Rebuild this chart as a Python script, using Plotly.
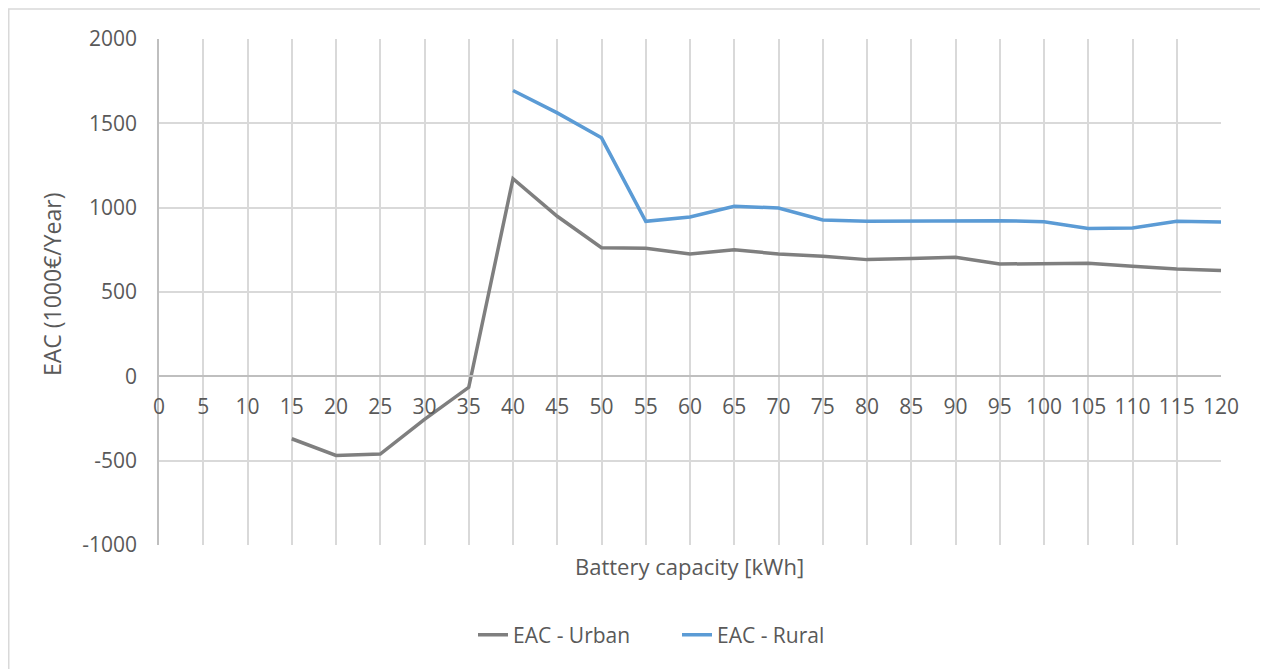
import plotly.graph_objects as go

capacity = [0, 5, 10, 15, 20, 25, 30, 35, 40, 45, 50, 55, 60, 65, 70, 75, 80, 85, 90, 95, 100, 105, 110, 115, 120]
eac_urban = [None, None, None, -370, -469, -461, -255, -65, 1172, 949, 763, 760, 725, 751, 725, 712, 692, 698, 706, 666, 666, 670, 652, 636, 627]
eac_rural = [None, None, None, None, None, None, None, None, 1695, 1562, 1414, 919, 945, 1008, 998, 927, 919, 919, 919, 923, 917, 876, 880, 919, 915]
y_ticks = [-1000, -500, 0, 500, 1000, 1500, 2000]
y_ticktext = ["-1000", "-500", "0", "500", "1000", "1500", "2000"]

FONT = "Open Sans"
TXT = "#595959"
GRID = "#d9d9d9"
FS = 21

# page body has an 8px margin, so the figure is drawn 8px smaller/shifted
OFF = 8
W, H = 1268 - OFF, 669 - OFF
L, R, T, B = 159 - OFF, 1221 - OFF, 39 - OFF, 545 - OFF
PW, PH = R - L, B - T


def px(xpix):
    return (xpix - OFF - L) / PW


def py(ypix):
    return (B - (ypix - OFF)) / PH


fig = go.Figure()
fig.add_trace(go.Scatter(x=capacity, y=eac_urban, mode="lines", name="EAC - Urban",
                         line=dict(color="#7f7f7f", width=3.5), connectgaps=False))
fig.add_trace(go.Scatter(x=capacity, y=eac_rural, mode="lines", name="EAC - Rural",
                         line=dict(color="#5b9bd5", width=3.5), connectgaps=False))

fig.update_layout(
    width=W, height=H,
    margin=dict(l=L, r=W - R, t=T, b=H - B),
    paper_bgcolor="white", plot_bgcolor="white",
    font=dict(family=FONT, color=TXT, size=FS),
    showlegend=True,
    legend=dict(orientation="h", x=px(473), xanchor="left", y=py(635), yanchor="middle",
                font=dict(size=FS, color=TXT), tracegroupgap=0, entrywidth=159),
    xaxis=dict(range=[0, 120], tickmode="array", tickvals=capacity,
               ticktext=[str(c) for c in capacity],
               showgrid=True, gridcolor=GRID, gridwidth=1.5,
               zeroline=False, showline=True, linecolor="#bfbfbf", linewidth=1.5,
               anchor="free", position=1/3, ticks="", ticklen=0, ticklabelstandoff=12,
               tickfont=dict(size=FS, color=TXT)),
    yaxis=dict(range=[-1000, 2000], tickmode="array", tickvals=y_ticks, ticktext=y_ticktext,
               showgrid=True, gridcolor=GRID,
               gridwidth=1.5, zeroline=False, showline=True, linecolor="#bfbfbf",
               linewidth=1.5, ticks="", ticklabelstandoff=16,
               tickfont=dict(size=FS, color=TXT)),
)

# axis titles
fig.add_annotation(text="Battery capacity [kWh]", xref="paper", yref="paper",
                   x=px(689), y=py(566), xanchor="center", yanchor="middle",
                   showarrow=False, font=dict(size=FS + 1, color=TXT))
fig.add_annotation(text="EAC (1000€/Year)", xref="paper", yref="paper",
                   x=px(52), y=py(284), xanchor="center", yanchor="middle", textangle=-90,
                   showarrow=False, font=dict(size=FS + 2, color=TXT))

# outer chart border
fig.add_shape(type="rect", xref="paper", yref="paper",
              x0=px(8.75), x1=px(1267), y0=py(720), y1=py(9),
              line=dict(color=GRID, width=1.5), fillcolor="rgba(0,0,0,0)", layer="below")

fig.write_html("out.html")
